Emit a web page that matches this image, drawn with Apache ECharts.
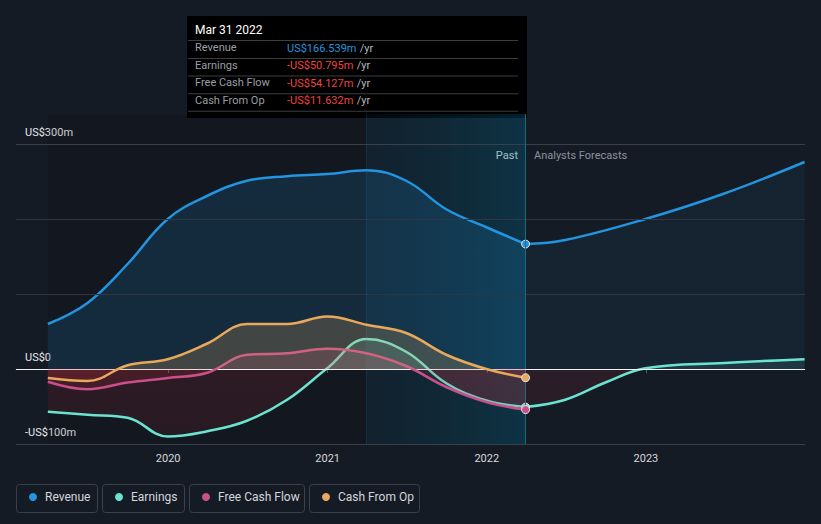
<!DOCTYPE html>
<html>
<head>
<meta charset="utf-8">
<script src="https://cdn.jsdelivr.net/npm/echarts@6/dist/echarts.min.js"></script>
<style>
html,body{margin:0;padding:0;background:#151b25;}
#chart{width:821px;height:524px;}
</style>
</head>
<body>
<div id="chart"></div>
<script>
// ---- data ----
const pastDates = ['2019-03-31','2019-06-30','2019-09-30','2019-12-31','2020-03-31','2020-06-30','2020-09-30','2020-12-31','2021-03-31','2021-06-30','2021-09-30','2021-12-31','2022-03-31'];
const revenuePast  = [60, 88, 140, 200, 231, 251, 257, 260, 265, 251, 213, 189, 166.539];
const earningsPast = [-57, -61, -65, -90, -83, -69, -41, 1, 40, 23, -19, -42, -50.795];
const fcfPast      = [-17, -27, -18, -12, -5, 19, 21, 27, 21, 4, -24, -44, -54.127];
const cfoPast      = [-12, -16, 5, 13, 34, 60, 60, 70, 59, 48, 19, 0, -11.632];

const revenueForecastDates = ['2022-03-31','2022-06-30','2022-12-31','2023-06-30','2023-12-31'];
const revenueForecast      = [166.539, 172, 200, 234, 276];
const earningsForecastDates = ['2022-03-31','2022-06-30','2022-09-30','2022-12-31','2023-06-30','2023-12-31'];
const earningsForecast      = [-50.795, -41, -18, 1, 8, 13];

const seriesNames = ['Revenue','Earnings','Free Cash Flow','Cash From Op'];
const yTickLabels = {'-100':'-US$100m','0':'US$0','300':'US$300m'};
const tooltipDate = 'Mar 31 2022';
const bandStart = '2021-03-31';
const pastEnd = '2022-03-31';
const xMin = '2019-01-17';
const xMax = '2024-01-01';

// ---- style ----
const colors = ['#2394df','#6ae3d0','#c9508b','#e8a95a'];
const GRID = {left:16, right:16, top:114, bottom:80};
const Y_MIN = -100, Y_MAX = 340;
const gTop = GRID.top, gBot = 524 - GRID.bottom;
const zf = Y_MAX / (Y_MAX - Y_MIN);

function rgba(hex, a){
  const n = parseInt(hex.slice(1),16);
  return 'rgba(' + (n>>16 & 255) + ',' + (n>>8 & 255) + ',' + (n & 255) + ',' + a + ')';
}
function splitFill(hex, posA, negTop, negBot){
  return new echarts.graphic.LinearGradient(0, gTop, 0, gBot, [
    {offset:0, color: rgba(hex,posA)},
    {offset:zf, color: rgba(hex,posA)},
    {offset:zf, color: 'rgba(214,48,60,' + negTop + ')'},
    {offset:1, color: 'rgba(214,48,60,' + negBot + ')'}
  ], true);
}
function pairs(dates, vals, markLast, color){
  return dates.map((d,i)=>{
    if (markLast && i === vals.length-1) {
      return {value:[d, vals[i]], symbol:'circle', symbolSize:8,
              itemStyle:{color:color, borderColor:'#e8e8e8', borderWidth:1}};
    }
    return [d, vals[i]];
  });
}
function lineSeries(name, idx, dates, vals, fill, markLast, z){
  return {
    name: name, type:'line', data: pairs(dates, vals, markLast, colors[idx]),
    smooth: 0.4, symbol:'none', showSymbol:true, z: z,
    lineStyle:{color: colors[idx], width: 2.5},
    itemStyle:{color: colors[idx]},
    areaStyle:{color: fill, origin: 0},
    emphasis:{disabled:true}, silent:true
  };
}

const chart = echarts.init(document.getElementById('chart'), null, {renderer:'svg', width:821, height:524});

const fmt = v => (v < 0 ? '-' : '') + 'US$' + Math.abs(v).toFixed(3) + 'm';
const lastVals = [revenuePast, earningsPast, fcfPast, cfoPast].map(a => a[a.length-1]);

const tipRows = seriesNames.map((n,i)=>{
  const y = 49 + i*17.6;
  const v = lastVals[i];
  return [
    {type:'text', left:195, top:y-7, style:{text:n, fill:'#9a9ea6', font:'11px Roboto'}},
    {type:'text', left:287, top:y-7, style:{
      text:'{v|' + fmt(v) + '} {u|/yr}',
      rich:{v:{fill: v<0 ? '#f0433f' : '#2394df', font:'11px Roboto'}, u:{fill:'#b4b8bf', font:'11px Roboto'}}
    }},
    {type:'rect', shape:{x:188, y:y+9, width:330, height:1}, style:{fill:'#3a3d42'}}
  ];
}).flat();

const legendBoxes = [[16,81],[102,82],[189,115],[309,110]];
const legendLefts = [24,110,197,317];

const option = {
  backgroundColor:'#151b25',
  animation:false,
  textStyle:{fontFamily:'Roboto, sans-serif'},
  grid:{left:GRID.left, right:GRID.right, top:GRID.top, bottom:GRID.bottom},
  xAxis:{
    type:'time', min:xMin, max:xMax,
    minInterval: 365*24*3600*1000, maxInterval: 366*24*3600*1000,
    axisLine:{show:true, lineStyle:{color:'#4b515b', width:1}},
    axisTick:{show:true, length:4, lineStyle:{color:'#5a606a'}},
    axisLabel:{color:'#d6d8dc', fontSize:11, margin:9, formatter:'{yyyy}'},
    splitLine:{show:false}, minorTick:{show:false}
  },
  yAxis:{
    type:'value', min:Y_MIN, max:Y_MAX, interval:100,
    axisLine:{show:false}, axisTick:{show:false}, splitLine:{show:false},
    axisLabel:{inside:true, margin:9, color:'#e6e8eb', fontSize:11, verticalAlign:'bottom', padding:[0,0,6,0],
      formatter: v => yTickLabels[String(v)] || ''}
  },
  legend: seriesNames.map((n,i)=>({
    data:[n], left: legendLefts[i], top: 486, icon:'circle', itemWidth:14, itemHeight:8,
    textStyle:{color:'#d4d6da', fontSize:12, fontFamily:'Roboto'}, selectedMode:false
  })),
  graphic:[
    ...legendBoxes.map(b=>({type:'rect', z:-1, shape:{x:b[0]+0.5, y:484.5, width:b[1], height:28, r:3},
      style:{fill:'rgba(0,0,0,0)', stroke:'#3b414b', lineWidth:1}})),
    {type:'text', right: 821-518, top:150, style:{text:'Past', fill:'#f2f2f2', font:'11px Roboto', align:'right'}},
    {type:'text', left:534, top:150, style:{text:'Analysts Forecasts', fill:'#8c919a', font:'11px Roboto'}},
    {type:'group', z:100, children:[
      {type:'rect', shape:{x:187, y:16, width:340, height:102}, style:{fill:'#000000'}},
      {type:'text', left:195, top:24, style:{text:tooltipDate, fill:'#ffffff', font:'12px Roboto'}},
      {type:'rect', shape:{x:188, y:40, width:330, height:1}, style:{fill:'#3a3d42'}},
      ...tipRows
    ]}
  ],
  series:[
    {
      type:'line', data:[], z:1, silent:true,
      markArea:{silent:true, data:[
        [{xAxis:pastDates[0], yAxis:Y_MIN, itemStyle:{color:'rgba(0,0,0,0.12)'}}, {xAxis:bandStart, yAxis:Y_MAX}],
        [{xAxis:bandStart, yAxis:Y_MIN, itemStyle:{color:new echarts.graphic.LinearGradient(0,0,1,0,[
          {offset:0,color:'rgba(0,70,95,0.14)'},{offset:1,color:'rgba(0,90,120,0.38)'}])}}, {xAxis:pastEnd, yAxis:Y_MAX}]
      ]},
      markLine:{silent:true, symbol:'none', label:{show:false}, data:[
        {yAxis:-100, lineStyle:{color:'#3a404a', width:1, type:'solid'}},
        {yAxis:100, lineStyle:{color:'#2f3641', width:1, type:'solid'}},
        {yAxis:200, lineStyle:{color:'#2f3641', width:1, type:'solid'}},
        {yAxis:300, lineStyle:{color:'#3a404a', width:1, type:'solid'}},
        {xAxis:bandStart, lineStyle:{color:'rgba(40,110,135,0.25)', width:1, type:'solid'}},
        {xAxis:pastEnd, lineStyle:{color:'#1d6b83', width:1, type:'solid'}}
      ]}
    },
    lineSeries('Revenue', 0, pastDates, revenuePast, splitFill(colors[0],0.22,0,0), true, 3),
    lineSeries('Revenue', 0, revenueForecastDates, revenueForecast, splitFill(colors[0],0.09,0,0), false, 3),
    lineSeries('Earnings', 1, pastDates, earningsPast, splitFill(colors[1],0.2,0.2,0.15), true, 4),
    lineSeries('Earnings', 1, earningsForecastDates, earningsForecast, splitFill(colors[1],0.15,0.16,0.1), false, 4),
    lineSeries('Free Cash Flow', 2, pastDates, fcfPast, splitFill(colors[2],0.25,0.2,0.15), true, 5),
    lineSeries('Cash From Op', 3, pastDates, cfoPast, splitFill(colors[3],0.3,0.2,0.15), true, 6),
    {
      type:'line', data:[], z:7, silent:true,
      markLine:{silent:true, symbol:'none', label:{show:false}, data:[
        {yAxis:0, lineStyle:{color:'#f4f4f4', width:1.2, type:'solid'}}
      ]}
    }
  ]
};
chart.setOption(option);
</script>
</body>
</html>
